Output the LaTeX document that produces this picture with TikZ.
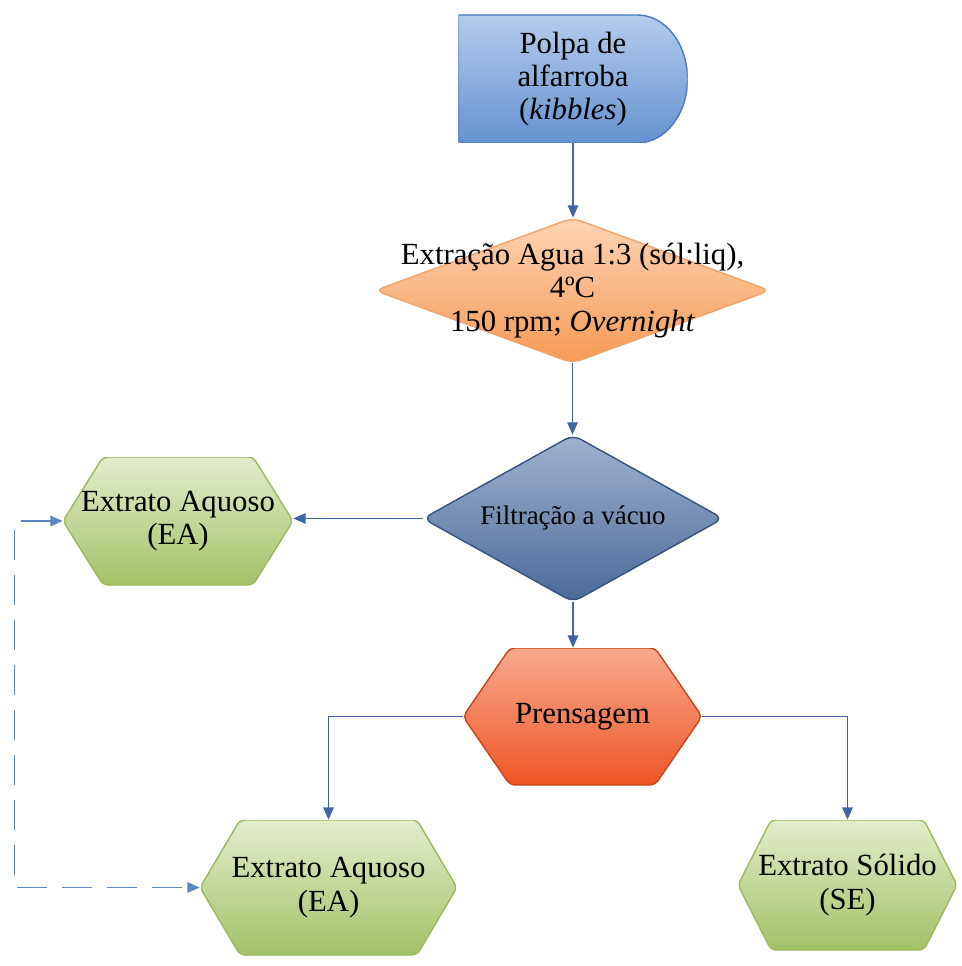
\documentclass[tikz,border=0pt]{standalone}
\usepackage{fontspec}
\setmainfont{Liberation Serif}
\usetikzlibrary{arrows.meta,positioning}
\definecolor{polpatop}{HTML}{B4CCEC}
\definecolor{polpabot}{HTML}{6592CF}
\definecolor{polpaline}{HTML}{4A7BBE}
\definecolor{orangetop}{HTML}{FCD4B4}
\definecolor{orangebot}{HTML}{F79A55}
\definecolor{orangeline}{HTML}{F2A36B}
\definecolor{filttop}{HTML}{9FB3D0}
\definecolor{filtbot}{HTML}{4A6A98}
\definecolor{filtline}{HTML}{34527D}
\definecolor{greentop}{HTML}{E3EDCD}
\definecolor{greenbot}{HTML}{A3C166}
\definecolor{greenline}{HTML}{9CB95C}
\definecolor{redtop}{HTML}{F8AA8E}
\definecolor{redbot}{HTML}{EE5626}
\definecolor{redline}{HTML}{C9431C}
\definecolor{flowline}{HTML}{3E66A2}
\definecolor{dashline}{HTML}{5B86C0}

\begin{document}
\begin{tikzpicture}[
  every node/.style={font=\fontsize{17.5}{19}\selectfont, align=center, inner sep=0pt},
  flow/.style={draw=flowline, line width=0.8pt, -{Triangle[length=7pt,width=6pt]}},
  dashflow/.style={draw=dashline, line width=0.9pt, dash pattern=on 0.6cm off 0.3cm,
    {Triangle[length=7pt,width=6pt]}-{Triangle[length=7pt,width=6pt]}},
  delaybox/.style={path picture={
    \shadedraw[top color=#1top, bottom color=#1bot, draw=#1line, line width=0.8pt]
      (path picture bounding box.north west) -- ([xshift=-1cm]path picture bounding box.north east)
      arc[start angle=90, end angle=-90, x radius=1cm, y radius=1.28cm]
      -- (path picture bounding box.south west) -- cycle;}},
  diamondbox/.style={path picture={
    \shadedraw[top color=#1top, bottom color=#1bot, draw=#1line, line width=0.8pt, rounded corners=5pt]
      (path picture bounding box.north) -- (path picture bounding box.east)
      -- (path picture bounding box.south) -- (path picture bounding box.west) -- cycle;}},
  hexbox/.style 2 args={path picture={
    \shadedraw[top color=#2top, bottom color=#2bot, draw=#2line, line width=0.8pt, rounded corners=3pt]
      ([xshift=#1]path picture bounding box.north west) -- ([xshift=-#1]path picture bounding box.north east)
      -- (path picture bounding box.east) -- ([xshift=-#1]path picture bounding box.south east)
      -- ([xshift=#1]path picture bounding box.south west) -- (path picture bounding box.west) -- cycle;}}
]
  \useasboundingbox (0,0) rectangle (19.22,-19.32);

  % ---- Raw material ----
  \node[delaybox=polpa, minimum width=4.58cm, minimum height=2.56cm] (polpa) at (11.46,-1.58)
    {Polpa de\\alfarroba\\(\textit{kibbles})};

  % ---- Extraction ----
  \node[diamondbox=orange, minimum width=7.9cm, minimum height=2.9cm] (extr) at (11.45,-5.81)
    {Extração Agua 1:3 (sól:liq),\\4ºC\\150 rpm; \textit{Overnight}};

  % ---- Filtration ----
  \node[diamondbox=filt, minimum width=6.0cm, minimum height=3.34cm,
    font=\fontsize{15.3}{17}\selectfont] (filt) at (11.46,-10.37) {Filtração a vácuo};

  % ---- Products ----
  \node[hexbox={0.8cm}{green}, minimum width=4.6cm, minimum height=2.56cm] (ea1) at (3.56,-10.42)
    {Extrato Aquoso\\(EA)};
  \node[hexbox={0.94cm}{red}, minimum width=4.78cm, minimum height=2.74cm] (prens) at (11.65,-14.33)
    {Prensagem};
  \node[hexbox={0.8cm}{green}, minimum width=5.14cm, minimum height=2.7cm] (ea2) at (6.57,-17.75)
    {Extrato Aquoso\\(EA)};
  \node[hexbox={0.66cm}{green}, minimum width=4.38cm, minimum height=2.6cm] (se) at (16.95,-17.7)
    {Extrato Sólido\\(SE)};

  % ---- Connectors ----
  \draw[flow] (polpa.south) -- (polpa.south |- extr.north);
  \draw[flow] (extr.south) -- (extr.south |- filt.north);
  \draw[flow] (filt.west) -- (filt.west -| ea1.east);
  \draw[flow] (filt.south) -- (filt.south |- prens.north);
  \draw[flow] (prens.west) -| (ea2.north);
  \draw[flow] (prens.east) -| (se.north);
  \draw[dashflow] (ea1.west) -- ++(-0.96,0) |- (ea2.west);

\end{tikzpicture}
\end{document}
